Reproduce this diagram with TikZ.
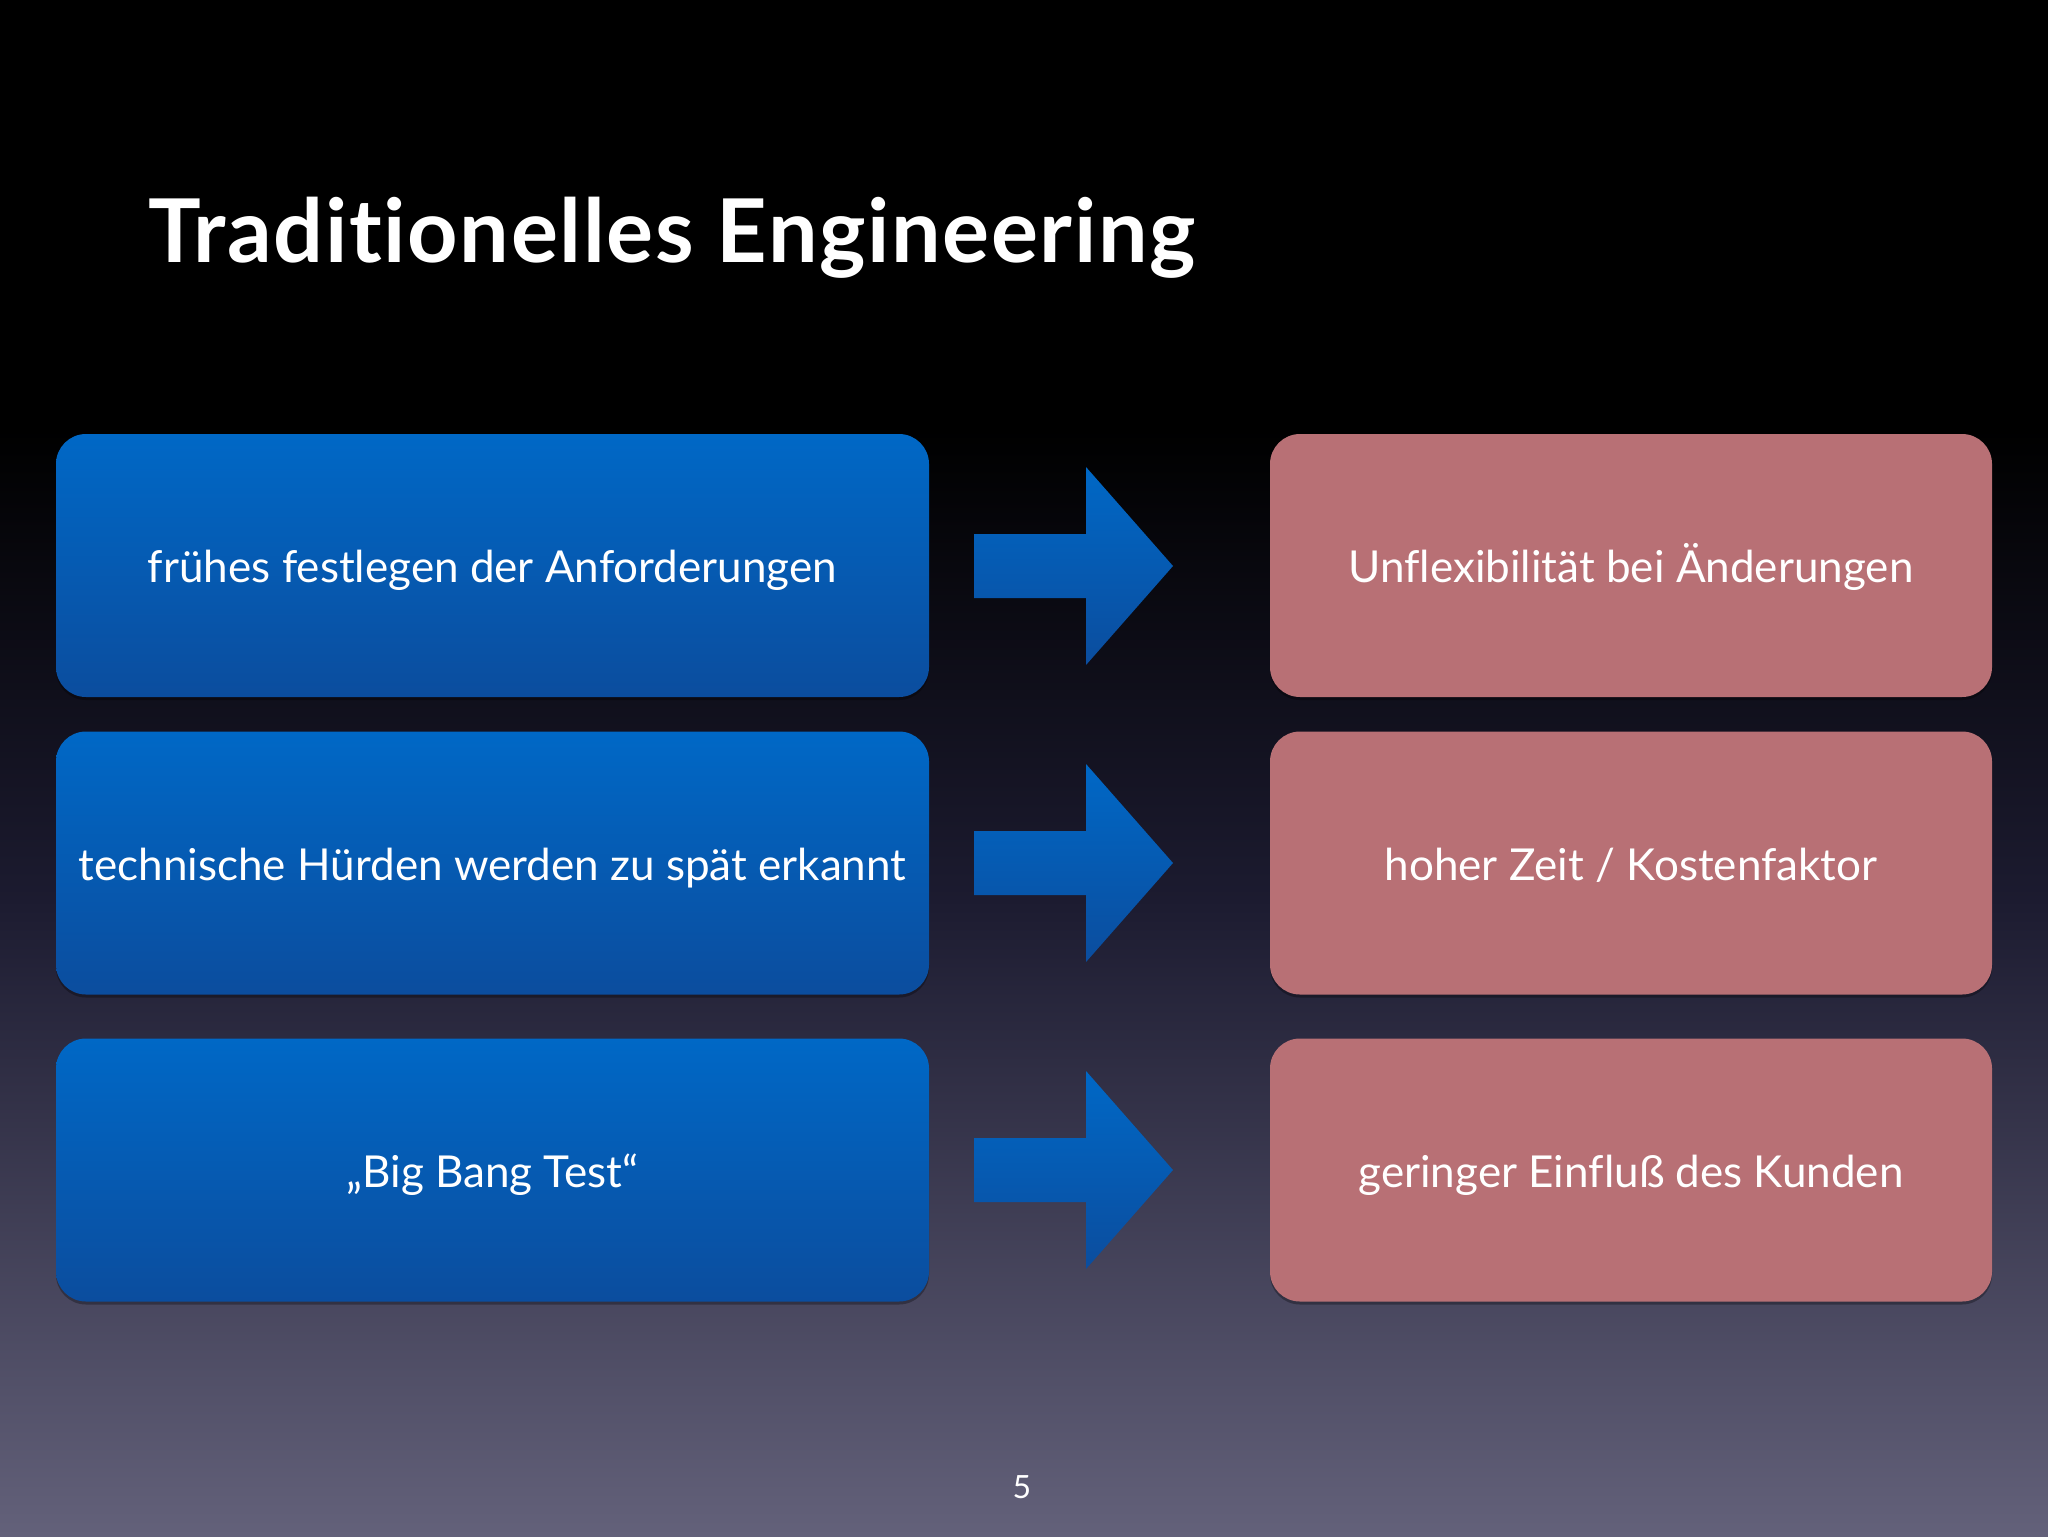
\documentclass[tikz,border=0pt]{standalone}
\usepackage{fontspec}
\setmainfont{Lato}[Ligatures=NoCommon]
\usetikzlibrary{shadows}
\definecolor{bluetop}{HTML}{0068C6}
\definecolor{bluebot}{HTML}{0B4D9E}
\definecolor{pinkbox}{HTML}{B87075}
\definecolor{bgbot}{HTML}{63617A}
\definecolor{bgmid}{HTML}{1C1B30}
\tikzset{
  leftbox/.style={rectangle, rounded corners=15pt, minimum width=436.5pt, minimum height=131.5pt,
    top color=bluetop, bottom color=bluebot, text=white, inner sep=0pt,
    font=\fontsize{22}{26}\selectfont,
    drop shadow={shadow xshift=0pt, shadow yshift=-1.5pt, opacity=0.3, fill=black}},
  rightbox/.style={rectangle, rounded corners=15pt, minimum width=361pt, minimum height=131.5pt,
    fill=pinkbox, text=white, inner sep=0pt,
    font=\fontsize{22}{26}\selectfont,
    drop shadow={shadow xshift=0pt, shadow yshift=-1.5pt, opacity=0.3, fill=black}},
  bigarrow/.style={top color=bluetop, bottom color=bluebot, draw=none},
}
\newcommand{\lowtext}[1]{\raisebox{-8.5pt}[0pt][0pt]{#1}}
\begin{document}
\begin{tikzpicture}[x=0.5pt, y=-0.5pt]
\useasboundingbox (0,0) rectangle (2048,1536);
\fill[black] (0,0) rectangle (2048,430);
\shade[top color=black, bottom color=bgmid] (0,429) rectangle (2048,900);
\shade[top color=bgmid, bottom color=bgbot] (0,899) rectangle (2048,1536);

\node[anchor=base west, text=white, font=\fontsize{44}{50}\selectfont\bfseries\addfontfeatures{LetterSpace=1.8}, inner sep=0pt] (title) at (148,262) {Traditionelles Engineering};

\node[leftbox] (l1) at (492.5,565.5) {\lowtext{frühes festlegen der Anforderungen}};
\node[leftbox] (l2) at (492.5,863) {\lowtext{technische Hürden werden zu spät erkannt}};
\node[leftbox] (l3) at (492.5,1170) {\lowtext{„Big Bang Test“}};

\node[rightbox] (r1) at (1631,565.5) {\lowtext{Unflexibilität bei Änderungen}};
\node[rightbox] (r2) at (1631,863) {\lowtext{hoher Zeit / Kostenfaktor}};
\node[rightbox] (r3) at (1631,1170) {\lowtext{geringer Einfluß des Kunden}};

\foreach \y in {566,863,1170}{
  \shade[bigarrow] (974,\y-32) -- (1086,\y-32) -- (1086,\y-99) -- (1173,\y) -- (1086,\y+99) -- (1086,\y+32) -- (974,\y+32) -- cycle;
}

\node[text=white, font=\fontsize{16}{18}\selectfont, inner sep=0pt] (page) at (1022,1487) {5};
\end{tikzpicture}
\end{document}
